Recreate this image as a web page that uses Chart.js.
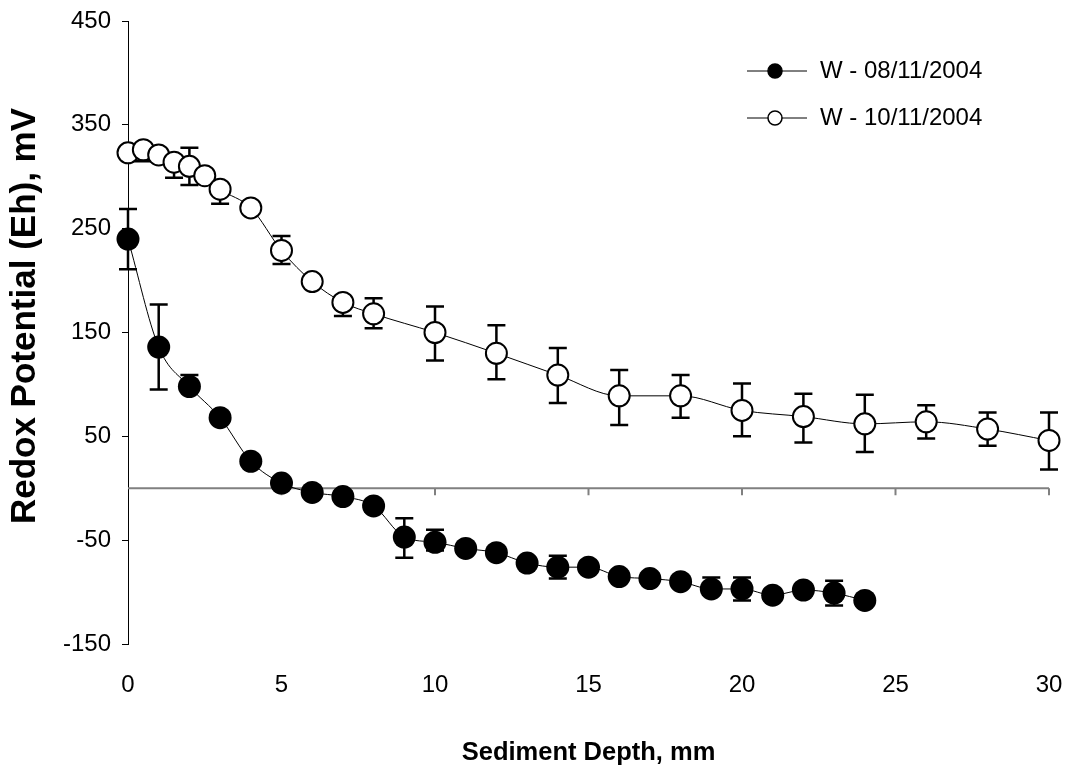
<!DOCTYPE html>
<html>
<head>
<meta charset="utf-8">
<title>Redox Potential vs Sediment Depth</title>
<script src="https://cdn.jsdelivr.net/npm/chart.js@4.4.0/dist/chart.umd.min.js"></script>
<style>
  html, body { margin: 0; padding: 0; background: #ffffff; }
  #wrap { position: relative; width: 1070px; height: 772px; }
</style>
</head>
<body>
<div id="wrap"><canvas id="grafico"></canvas></div>
<script>
// Serie W - 08/11/2004 (marcador relleno)
const profW08 = [0, 1, 2, 3, 4, 5, 6, 7, 8, 9, 10, 11, 12, 13, 14, 15, 16, 17, 18, 19, 20, 21, 22, 23, 24];
const ehW08 = [240, 136, 98, 68, 26, 5, -4, -8, -17, -47, -52, -58, -62, -72, -76, -76, -85, -87, -90, -97, -97, -103, -98, -101, -108];
const errSupW08 = [29, 41, 11, 0, 0, 0, 0, 0, 0, 18, 12, 0, 0, 0, 11, 0, 0, 0, 0, 11, 11, 0, 0, 12, 0];
const errInfW08 = [29, 41, 0, 0, 0, 0, 0, 0, 0, 20, 8, 0, 0, 0, 11, 0, 0, 0, 0, 0, 11, 0, 0, 12, 0];

// Serie W - 10/11/2004 (marcador vacío)
const profW10 = [0, 0.5, 1, 1.5, 2, 2.5, 3, 4, 5, 6, 7, 8, 10, 12, 14, 16, 18, 20, 22, 24, 26, 28, 30];
const ehW10 = [323, 326, 321, 314, 310, 301, 288, 270, 229, 199, 179, 168, 150, 130, 109, 89, 89, 75, 69, 62, 64, 57, 46];
const errSupW10 = [0, 0, 0, 0, 18, 0, 0, 0, 14, 0, 0, 15, 25, 27, 26, 25, 20, 26, 22, 28, 16, 16, 27];
const errInfW10 = [0, 11, 0, 15, 18, 0, 14, 0, 13, 0, 13, 14, 27, 25, 27, 28, 21, 25, 25, 27, 16, 16, 28];

const etiquetasSeries = ['W - 08/11/2004', 'W - 10/11/2004'];
const ticksY = [-150, -50, 50, 150, 250, 350, 450];
const ticksX = [0, 5, 10, 15, 20, 25, 30];
const tituloY = 'Redox Potential (Eh), mV';

const FUENTE = "'Liberation Sans', Arial, sans-serif";

// Barras de error (se dibujan antes que los marcadores)
const pluginErrores = {
    id: 'barrasError',
    beforeDatasetsDraw(chart) {
        const { ctx, scales: { x, y } } = chart;
        ctx.save();
        ctx.strokeStyle = '#000';
        ctx.lineWidth = 2.5;
        chart.data.datasets.forEach(ds => {
            ds.data.forEach((p, i) => {
                const px = x.getPixelForValue(p.x);
                const sup = ds.errSup[i], inf = ds.errInf[i];
                const yS = y.getPixelForValue(p.y + sup);
                const yI = y.getPixelForValue(p.y - inf);
                ctx.beginPath();
                ctx.moveTo(px, yI);
                ctx.lineTo(px, yS);
                if (sup > 0) { ctx.moveTo(px - 9, yS); ctx.lineTo(px + 9, yS); }
                if (inf > 0) { ctx.moveTo(px - 9, yI); ctx.lineTo(px + 9, yI); }
                ctx.stroke();
            });
        });
        ctx.restore();
    }
};

// Línea gris en Eh = 0 con sus marcas hacia abajo
const pluginCero = {
    id: 'lineaCero',
    beforeDatasetsDraw(chart) {
        const { ctx, scales: { x, y } } = chart;
        const y0 = y.getPixelForValue(0);
        ctx.save();
        ctx.strokeStyle = '#808080';
        ctx.lineWidth = 2;
        ctx.beginPath();
        ctx.moveTo(x.getPixelForValue(0), y0);
        ctx.lineTo(x.getPixelForValue(30), y0);
        ticksX.slice(1).forEach(v => {
            const px = x.getPixelForValue(v);
            ctx.moveTo(px, y0);
            ctx.lineTo(px, y0 + 7);
        });
        ctx.stroke();
        ctx.restore();
    }
};

// Leyenda dentro del área del gráfico y título vertical del eje Y
const pluginLeyenda = {
    id: 'leyenda',
    afterDraw(chart) {
        const { ctx } = chart;
        ctx.save();
        chart.data.datasets.forEach((ds, i) => {
            const yy = 71 + i * 47;
            ctx.strokeStyle = '#000';
            ctx.lineWidth = 1;
            ctx.beginPath();
            ctx.moveTo(747, yy);
            ctx.lineTo(807, yy);
            ctx.stroke();
            ctx.beginPath();
            ctx.arc(775, yy, 7, 0, Math.PI * 2);
            ctx.fillStyle = ds.pointBackgroundColor;
            ctx.fill();
            ctx.lineWidth = 1.5;
            ctx.stroke();
            ctx.fillStyle = '#000';
            ctx.font = '24px ' + FUENTE;
            ctx.textBaseline = 'middle';
            ctx.textAlign = 'left';
            ctx.fillText(ds.label, 820, yy);
        });

        ctx.translate(25, 316);
        ctx.rotate(-Math.PI / 2);
        ctx.font = 'bold 35px ' + FUENTE;
        ctx.textAlign = 'center';
        ctx.textBaseline = 'middle';
        ctx.fillStyle = '#000';
        ctx.fillText(tituloY, 0, 0);
        ctx.restore();
    }
};

const aPuntos = (xs, ys) => xs.map((v, i) => ({ x: v, y: ys[i] }));

new Chart(document.getElementById('grafico'), {
    type: 'line',
    data: {
        datasets: [
            {
                label: etiquetasSeries[0],
                data: aPuntos(profW08, ehW08),
                errSup: errSupW08,
                errInf: errInfW08,
                borderColor: '#000',
                borderWidth: 1,
                pointRadius: 11.5,
                pointBorderWidth: 0,
                pointBackgroundColor: '#000',
                pointBorderColor: '#000',
                cubicInterpolationMode: 'monotone',
                clip: false
            },
            {
                label: etiquetasSeries[1],
                data: aPuntos(profW10, ehW10),
                errSup: errSupW10,
                errInf: errInfW10,
                borderColor: '#000',
                borderWidth: 1,
                pointRadius: 10.5,
                pointBorderWidth: 2,
                pointBackgroundColor: '#fff',
                pointBorderColor: '#000',
                cubicInterpolationMode: 'monotone',
                clip: false
            }
        ]
    },
    options: {
        responsive: true,
        maintainAspectRatio: false,
        animation: false,
        layout: { padding: { top: 21, right: 21, left: 0, bottom: 0 } },
        plugins: {
            legend: { display: false },
            tooltip: { enabled: false }
        },
        scales: {
            x: {
                type: 'linear',
                min: 0,
                max: 30,
                afterBuildTicks: s => { s.ticks = ticksX.map(v => ({ value: v })); },
                afterFit: s => { s.height = 128; s.paddingLeft = 0; s.paddingRight = 0; },
                ticks: { color: '#000', font: { size: 24, family: FUENTE }, padding: 27, maxRotation: 0 },
                grid: { display: false, drawTicks: false },
                border: { display: false },
                title: {
                    display: true,
                    text: 'Sediment Depth, mm',
                    color: '#000',
                    font: { size: 25.5, weight: 'bold', family: FUENTE },
                    padding: { top: 0, bottom: 4 }
                }
            },
            y: {
                type: 'linear',
                min: -150,
                max: 450,
                afterBuildTicks: s => { s.ticks = ticksY.map(v => ({ value: v })); },
                afterFit: s => { s.width = 128; s.paddingTop = 0; s.paddingBottom = 0; },
                ticks: { color: '#000', font: { size: 24, family: FUENTE }, padding: 11 },
                grid: { drawOnChartArea: false, drawTicks: true, tickLength: 6, color: '#000', lineWidth: 1 },
                border: { display: true, color: '#000', width: 1 }
            }
        }
    },
    plugins: [pluginCero, pluginErrores, pluginLeyenda]
});
</script>
</body>
</html>
